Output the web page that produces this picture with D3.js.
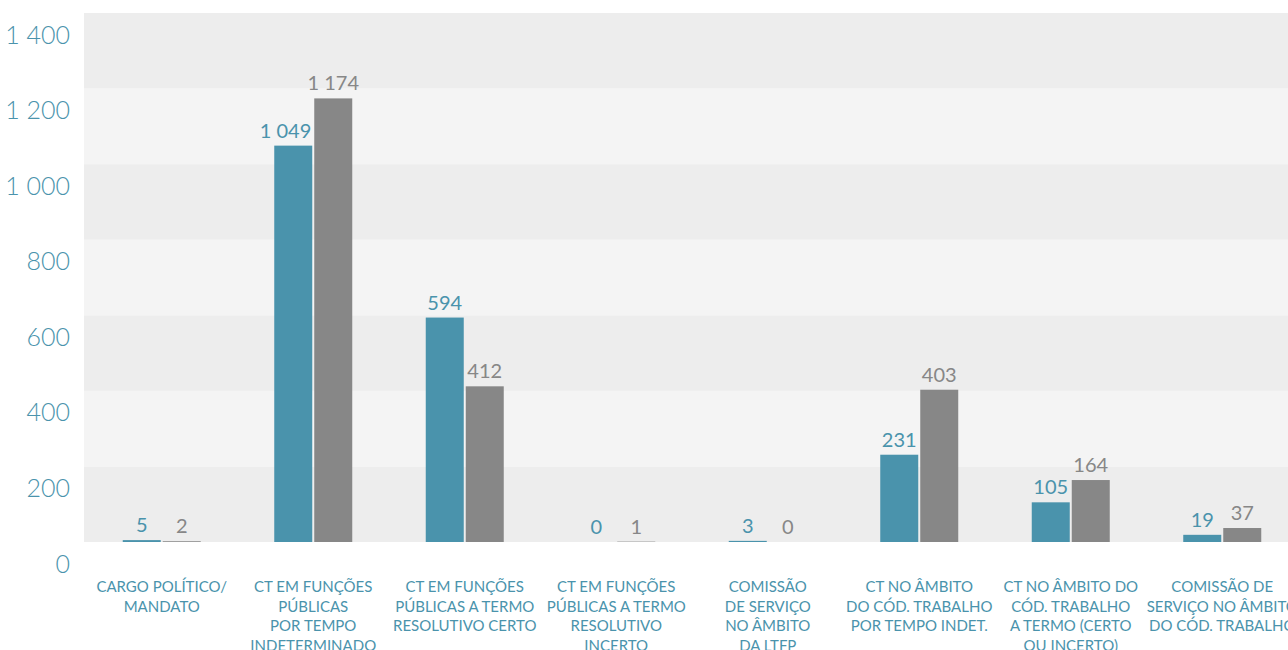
<!DOCTYPE html>
<html>
<head>
<meta charset="utf-8">
<script src="https://cdn.jsdelivr.net/npm/d3@7"></script>
<style>
  html, body { margin: 0; padding: 0; background: #ffffff; }
  svg { display: block; }
</style>
</head>
<body>
<svg id="chart" width="1288" height="650"></svg>
<script>
// Categories (each entry is a list of label lines)
const categories = [
  ["CARGO POLÍTICO/", "MANDATO"],
  ["CT EM FUNÇÕES", "PÚBLICAS", "POR TEMPO", "INDETERMINADO"],
  ["CT EM FUNÇÕES", "PÚBLICAS A TERMO", "RESOLUTIVO CERTO"],
  ["CT EM FUNÇÕES", "PÚBLICAS A TERMO", "RESOLUTIVO", "INCERTO"],
  ["COMISSÃO", "DE SERVIÇO", "NO ÂMBITO", "DA LTFP"],
  ["CT NO ÂMBITO", "DO CÓD. TRABALHO", "POR TEMPO INDET."],
  ["CT NO ÂMBITO DO", "CÓD. TRABALHO", "A TERMO (CERTO", "OU INCERTO)"],
  ["COMISSÃO DE", "SERVIÇO NO ÂMBITO", "DO CÓD. TRABALHO"]
];
const seriesA = [5, 1049, 594, 0, 3, 231, 105, 19];
const seriesB = [2, 1174, 412, 1, 0, 403, 164, 37];
const yTicks = [0, 200, 400, 600, 800, 1000, 1200, 1400];

const colorA = "#4a93ac";
const colorB = "#878787";
const textBlue = "#4a93ac";
const fontFamily = "Lato, 'Open Sans', sans-serif";

const svg = d3.select("#chart");
const fmt = v => d3.format(",")(v).replace(/,/g, " ");

const plotLeft = 84, plotRight = 1300, plotTop = 13, plotBottom = 542;

const y = d3.scaleLinear().domain([0, 1400]).range([plotBottom, plotTop]);
const x0 = d3.scaleBand().domain(d3.range(categories.length)).range([86, 1298]);
const x1 = d3.scaleBand().domain([0, 1]).range([0, 78]).paddingInner(0.05);

// alternating horizontal bands
const bands = d3.range(yTicks.length - 1);
svg.append("g").selectAll("rect").data(bands).join("rect")
  .attr("x", plotLeft)
  .attr("width", plotRight - plotLeft)
  .attr("y", i => y(yTicks[i + 1]))
  .attr("height", i => y(yTicks[i]) - y(yTicks[i + 1]))
  .attr("fill", i => (i % 2 === 0) ? "#ededed" : "#f4f4f4");

// y axis labels
const yAxis = d3.axisLeft(y).tickValues(yTicks).tickFormat(fmt).tickSize(0).tickPadding(0);
const gy = svg.append("g").attr("transform", "translate(70,0)").call(yAxis);
gy.select(".domain").remove();
gy.selectAll("text")
  .attr("dy", "0.32em")
  .attr("y", 22)
  .attr("fill", textBlue)
  .style("font-family", fontFamily)
  .style("font-weight", 300)
  .style("font-size", "25px");

// bars
const groups = svg.append("g").selectAll("g").data(categories).join("g")
  .attr("transform", (d, i) => `translate(${x0(i) + x0.bandwidth() / 2 - 39},0)`);

const series = [
  { values: seriesA, color: colorA },
  { values: seriesB, color: colorB }
];

series.forEach((s, si) => {
  groups.append("rect")
    .attr("x", x1(si))
    .attr("width", x1.bandwidth())
    .attr("y", (d, i) => y(s.values[i]))
    .attr("height", (d, i) => plotBottom - y(s.values[i]))
    .attr("fill", s.color);

  groups.append("text")
    .attr("class", "val val" + si)
    .attr("x", x1(si) + x1.bandwidth() / 2)
    .attr("y", (d, i) => y(s.values[i]) - 8)
    .attr("text-anchor", "middle")
    .attr("fill", s.color)
    .style("font-family", fontFamily)
    .style("font-size", "20px")
    .text((d, i) => fmt(s.values[i]));
});

// keep a value label clear of the neighbouring taller bar
groups.each(function (d, i) {
  const g = d3.select(this);
  const tA = g.select(".val0").node();
  const tB = g.select(".val1").node();
  const bA = tA.getBBox(), bB = tB.getBBox();
  if (y(seriesB[i]) < bA.y + bA.height) {
    const over = bA.x + bA.width - (x1(1) - 3);
    if (over > 0) d3.select(tA).attr("x", +tA.getAttribute("x") - over);
  }
  if (y(seriesA[i]) < bB.y + bB.height) {
    const over = (x1(0) + x1.bandwidth() + 3) - bB.x;
    if (over > 0) d3.select(tB).attr("x", +tB.getAttribute("x") + over);
  }
});

// category labels
const xAxis = svg.append("g");
categories.forEach((lines, i) => {
  const cx = x0(i) + x0.bandwidth() / 2;
  const t = xAxis.append("text")
    .attr("x", cx)
    .attr("y", 592)
    .attr("text-anchor", "middle")
    .attr("fill", textBlue)
    .style("font-family", fontFamily)
    .style("font-size", "15px");
  lines.forEach((ln, j) => {
    t.append("tspan")
      .attr("x", cx)
      .attr("dy", j === 0 ? 0 : 19.5)
      .text(ln);
  });
});
</script>
</body>
</html>
